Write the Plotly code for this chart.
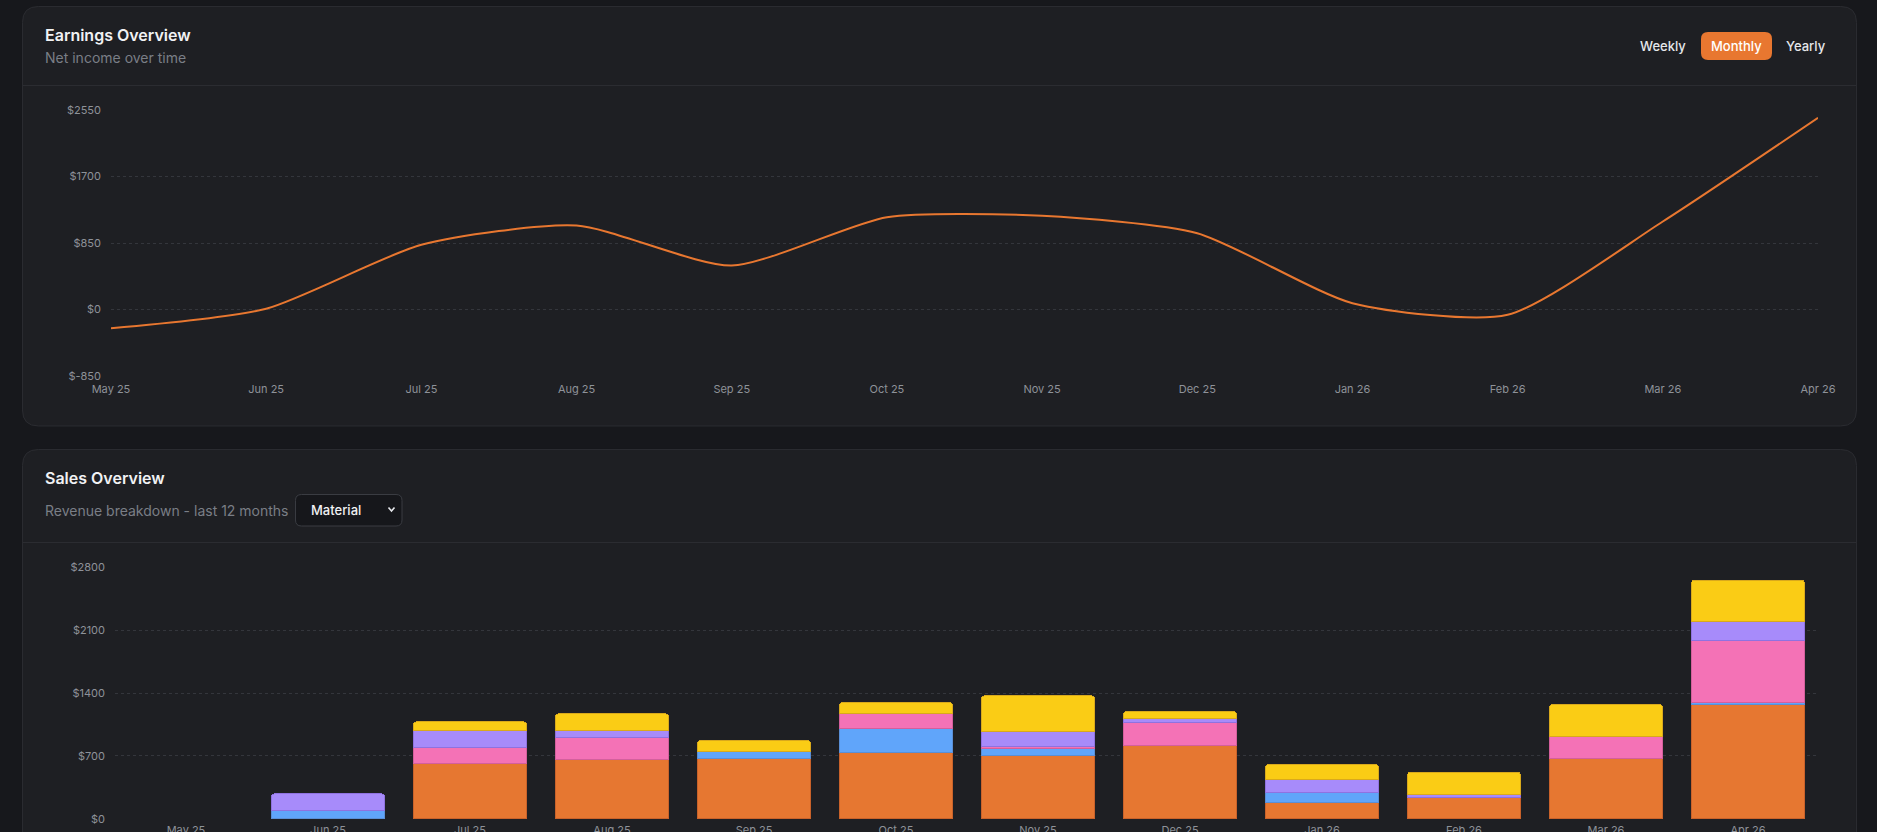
import plotly.graph_objects as go

W, H = 1877, 832

# ---------------- data ----------------
months = ["May 25", "Jun 25", "Jul 25", "Aug 25", "Sep 25", "Oct 25",
          "Nov 25", "Dec 25", "Jan 26", "Feb 26", "Mar 26", "Apr 26"]

net_income = [-240, 10, 827, 1073, 562, 1180, 1197, 975, 81, -68, 1125, 2450]

line_tickvals = [-850, 0, 850, 1700, 2550]
line_ticktext = ["$-850", "$0", "$850", "$1700", "$2550"]

bar_tickvals = [0, 700, 1400, 2100, 2800]
bar_ticktext = ["$0", "$700", "$1400", "$2100", "$2800"]

series_names = ["Material A", "Material B", "Material C", "Material D", "Material E"]
series_orange = [None, None, 615, 663, 670, 737, 704, 819, 185, 244, 670, 1267]
series_blue = [None, 90, None, None, 78, 267, 74, None, 108, None, None, 29]
series_pink = [None, None, 178, 244, None, 170, 26, 251, None, None, 249, 689]
series_purple = [None, 190, 185, 78, None, None, 166, 49, 151, 30, None, 211]
series_yellow = [None, None, 103, 185, 122, 119, 400, 74, 160, 248, 355, 460]

# ---------------- style ----------------
PAGE_BG = "#17181c"
CARD_BG = "#1e1f23"
CARD_BORDER = "#2b2c31"
GRID = "#34363c"
TICK = "#8e9299"
ORANGE = "#e87730"
FONT = "Inter, Roboto, sans-serif"

fills = ["#e67731", "#60a5fa", "#f472b6", "#a78bfa", "#facc15"]
edges = ["#c9622a", "#5a8fd6", "#d45f9c", "#8f72e0", "#d9a91c"]


def px(x):
    return x / W


def py(y):
    return 1 - y / H


def rrect(x0, y0, x1, y1, r):
    pts = [
        ("M", x0 + r, y0), ("L", x1 - r, y0), ("Q", x1, y0, x1, y0 + r),
        ("L", x1, y1 - r), ("Q", x1, y1, x1 - r, y1), ("L", x0 + r, y1),
        ("Q", x0, y1, x0, y1 - r), ("L", x0, y0 + r), ("Q", x0, y0, x0 + r, y0),
    ]
    s = ""
    for p in pts:
        cmd = p[0]
        coords = p[1:]
        parts = []
        for i in range(0, len(coords), 2):
            parts.append(f"{px(coords[i]):.6f},{py(coords[i + 1]):.6f}")
        s += cmd + " " + " ".join(parts) + " "
    return s + "Z"


fig = go.Figure()

# line chart
fig.add_trace(go.Scatter(
    x=months, y=net_income, mode="lines",
    line=dict(color=ORANGE, width=2, shape="spline", smoothing=0.65),
    xaxis="x", yaxis="y", showlegend=False, hoverinfo="skip",
))

# stacked bars
for name, vals, fc, ec in zip(series_names,
                              [series_orange, series_blue, series_pink, series_purple, series_yellow],
                              fills, edges):
    fig.add_trace(go.Bar(
        x=months, y=vals, name=name,
        marker=dict(color=fc, line=dict(color=ec, width=1)),
        xaxis="x2", yaxis="y2", showlegend=False, hoverinfo="skip",
    ))

shapes = [
    # cards
    dict(type="path", path=rrect(22.5, 6.5, 1856.5, 426, 16), xref="paper", yref="paper",
         fillcolor=CARD_BG, line=dict(color=CARD_BORDER, width=1), layer="below"),
    dict(type="path", path=rrect(22.5, 449.5, 1856.5, 900, 16), xref="paper", yref="paper",
         fillcolor=CARD_BG, line=dict(color=CARD_BORDER, width=1), layer="below"),
    # header dividers
    dict(type="line", x0=px(23), x1=px(1856), y0=py(85.5), y1=py(85.5), xref="paper", yref="paper",
         line=dict(color=CARD_BORDER, width=1), layer="below"),
    dict(type="line", x0=px(23), x1=px(1856), y0=py(542.5), y1=py(542.5), xref="paper", yref="paper",
         line=dict(color=CARD_BORDER, width=1), layer="below"),
    # Monthly button
    dict(type="path", path=rrect(1701, 32, 1772, 60, 7), xref="paper", yref="paper",
         fillcolor=ORANGE, line=dict(width=0), layer="below"),
    # dropdown
    dict(type="path", path=rrect(295.5, 494.5, 402, 526, 6), xref="paper", yref="paper",
         fillcolor="#16171b", line=dict(color="#3a3c42", width=1), layer="below"),
    dict(type="path",
         path=f"M {px(388.5):.6f},{py(507.5):.6f} L {px(391.5):.6f},{py(511):.6f} L {px(394.5):.6f},{py(507.5):.6f}",
         xref="paper", yref="paper", line=dict(color="#e5e7eb", width=1.6)),
]

annotations = [
    dict(text="Earnings Overview", x=px(43), y=py(35), xanchor="left", yanchor="middle",
         font=dict(size=16, color="#f1f2f4", family=FONT, weight=600)),
    dict(text="Net income over time", x=px(43), y=py(58), xanchor="left", yanchor="middle",
         font=dict(size=14, color="#7a7e86", family=FONT)),
    dict(text="Weekly", x=px(1663), y=py(45.5), xanchor="center", yanchor="middle",
         font=dict(size=13, color="#e5e7eb", family=FONT, weight=500)),
    dict(text="Monthly", x=px(1736.5), y=py(45.5), xanchor="center", yanchor="middle",
         font=dict(size=13, color="#ffffff", family=FONT, weight=500)),
    dict(text="Yearly", x=px(1806), y=py(45.5), xanchor="center", yanchor="middle",
         font=dict(size=13, color="#e5e7eb", family=FONT, weight=500)),
    dict(text="Sales Overview", x=px(43), y=py(478), xanchor="left", yanchor="middle",
         font=dict(size=16, color="#f1f2f4", family=FONT, weight=600)),
    dict(text="Revenue breakdown - last 12 months", x=px(43), y=py(510), xanchor="left", yanchor="middle",
         font=dict(size=14, color="#7a7e86", family=FONT)),
    dict(text="Material", x=px(309), y=py(510.5), xanchor="left", yanchor="middle",
         font=dict(size=13, color="#f1f2f4", family=FONT, weight=500)),
]
for a in annotations:
    a.update(xref="paper", yref="paper", showarrow=False)

axis_common = dict(showline=False, zeroline=False, ticks="", fixedrange=True, automargin=False,
                   tickfont=dict(size=11, color=TICK, family=FONT))

fig.update_layout(
    width=W, height=H, autosize=False,
    margin=dict(l=0, r=0, t=0, b=0, pad=0, autoexpand=False),
    paper_bgcolor=PAGE_BG, plot_bgcolor="rgba(0,0,0,0)",
    barmode="stack", bargap=0.2, barcornerradius=4,
    shapes=shapes, annotations=annotations,
    xaxis=dict(domain=[px(111), px(1818)], anchor="y", type="category",
               categoryorder="array", categoryarray=months, range=[0, 11],
               showgrid=False, ticklabelstandoff=4, **axis_common),
    yaxis=dict(domain=[py(376.5), py(109.5)], anchor="x", range=[-856, 2556],
               tickvals=line_tickvals, ticktext=line_ticktext,
               showgrid=True, gridcolor=GRID, griddash="dot", gridwidth=1,
               ticklabelstandoff=9, **axis_common),
    xaxis2=dict(domain=[px(115), px(1819)], anchor="y2", type="category",
                categoryorder="array", categoryarray=months, range=[-0.5, 11.5],
                showgrid=False, ticklabelstandoff=2, **axis_common),
    yaxis2=dict(domain=[py(819.5), py(566.5)], anchor="x2", range=[-6, 2806],
                tickvals=bar_tickvals, ticktext=bar_ticktext,
                showgrid=True, gridcolor=GRID, griddash="dot", gridwidth=1,
                ticklabelstandoff=9, **axis_common),
    font=dict(family=FONT),
)

fig.write_html(
    "out.html",
    config={"displayModeBar": False},
    post_script="document.body.style.margin='0';document.body.style.padding='0';"
                "document.body.style.overflow='hidden';"
                "document.documentElement.style.overflow='hidden';",
)
